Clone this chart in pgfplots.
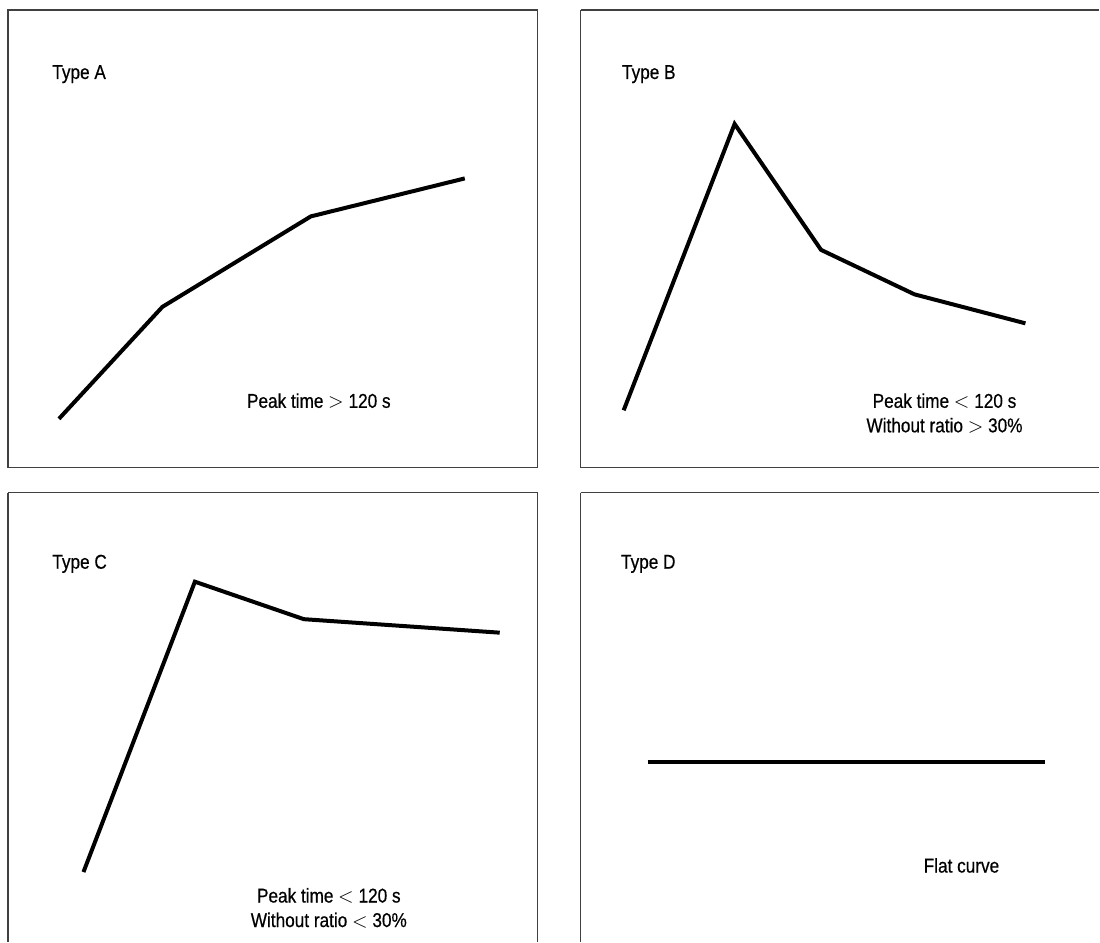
\documentclass[border=0pt]{standalone}
\usepackage{fontspec}
\setmainfont{Liberation Sans}[FakeStretch=0.86, FakeBold=0.5]
\usepackage{pgfplots}
\pgfplotsset{compat=1.18}
\tikzset{lbl/.style={font=\fontsize{10}{12}\selectfont, inner sep=0pt},
  crv/.style={black, line width=2pt, mark=none, line join=miter}}
\pgfplotsset{
  panel/.style={
    scale only axis,
    anchor=north west,
    y dir=reverse,
    xtick=\empty, ytick=\empty,
    axis line style={black!75, line width=0.6pt},
    clip=false,
  },
  noarrows/.style={
    every outer x axis line/.append style={-},
    every outer y axis line/.append style={-},
    every inner x axis line/.append style={-},
    every inner y axis line/.append style={-},
    x axis line style={-}, y axis line style={-},
  },
}
\begin{document}
\begin{tikzpicture}
\path (0,0) rectangle (550pt,-471pt);
% Type A
\begin{axis}[panel, at={(4pt,-5pt)}, width=265pt, height=229pt,
  xmin=8, xmax=538, ymin=10, ymax=468]
\addplot[crv] coordinates {(59,419) (162.5,307) (311,216.5) (465,178.5)};
\node[lbl, anchor=base west] at (axis cs:52,79) {Type A};
\node[lbl, anchor=base] at (axis cs:319,408) {Peak time $>$ 120 s};
\end{axis}
% Type B
\begin{axis}[panel, at={(290.5pt,-5pt)}, width=259.5pt, height=229pt,
  axis x line=box, axis y line=left, noarrows,
  xmin=581, xmax=1100, ymin=10, ymax=468]
\addplot[crv] coordinates {(624,410.5) (735,124) (821.5,250) (915,294.5) (1026,323.5)};
\node[lbl, anchor=base west] at (axis cs:622,79) {Type B};
\node[lbl, anchor=base] at (axis cs:945,408) {Peak time $<$ 120 s};
\node[lbl, anchor=base] at (axis cs:945,432.5) {Without ratio $>$ 30\%};
\end{axis}
% Type C
\begin{axis}[panel, at={(4pt,-246.5pt)}, width=265pt, height=224.5pt,
  axis x line=top, axis y line=box, noarrows,
  xmin=8, xmax=538, ymin=493, ymax=942]
\addplot[crv] coordinates {(83.5,872.5) (195,582) (304,619.5) (500,633)};
\node[lbl, anchor=base west] at (axis cs:52,569) {Type C};
\node[lbl, anchor=base] at (axis cs:329,903) {Peak time $<$ 120 s};
\node[lbl, anchor=base] at (axis cs:329,927.5) {Without ratio $<$ 30\%};
\end{axis}
% Type D
\begin{axis}[panel, at={(290.5pt,-246.5pt)}, width=259.5pt, height=224.5pt,
  axis x line=top, axis y line=left, noarrows,
  xmin=581, xmax=1100, ymin=493, ymax=942]
\addplot[crv] coordinates {(648,762) (1046,762)};
\node[lbl, anchor=base west] at (axis cs:621,569) {Type D};
\node[lbl, anchor=base] at (axis cs:962,873) {Flat curve};
\end{axis}
\end{tikzpicture}
\end{document}
